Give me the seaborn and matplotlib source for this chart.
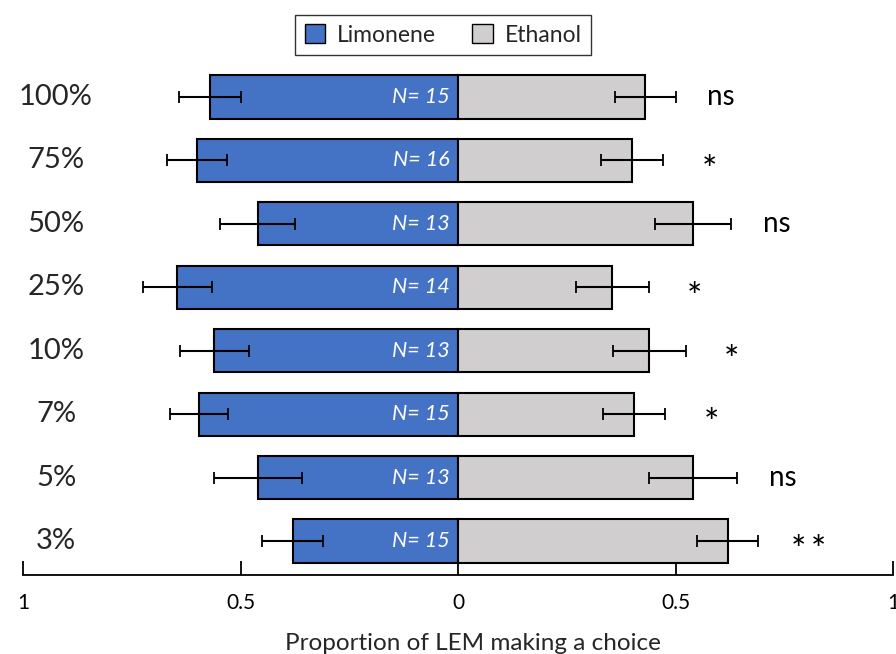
import matplotlib
matplotlib.use("Agg")
import matplotlib.pyplot as plt
import matplotlib.transforms as mtransforms
from matplotlib.patches import Patch
import seaborn as sns
import pandas as pd

concentrations = ['100%', '75%', '50%', '25%', '10%', '7%', '5%', '3%']
limonene = [0.57, 0.60, 0.46, 0.645, 0.56, 0.595, 0.46, 0.38]
ethanol = [0.43, 0.40, 0.54, 0.355, 0.44, 0.405, 0.54, 0.62]
limonene_err = [0.071, 0.069, 0.086, 0.080, 0.080, 0.067, 0.102, 0.070]
ethanol_err = [0.070, 0.072, 0.087, 0.083, 0.083, 0.072, 0.102, 0.070]
n_values = [15, 16, 13, 14, 13, 15, 13, 15]
significance = ['ns', '*', 'ns', '*', '*', '*', 'ns', '**']
x_ticks = [-1, -0.5, 0, 0.5, 1]
x_ticklabels = ['1', '0.5', '0', '0.5', '1']

sns.set_theme(style='white')
plt.rcParams['font.family'] = ['Lato', 'DejaVu Sans']

df = pd.DataFrame({
    'conc': concentrations * 2,
    'value': [-v for v in limonene] + ethanol,
    'odor': ['Limonene'] * len(concentrations) + ['Ethanol'] * len(concentrations),
})

blue = '#4472C4'
gray = '#D0CECE'

fig = plt.figure(figsize=(8.96, 6.54), dpi=100)
ax = fig.add_axes([23 / 896, 1 - 575 / 654, 870 / 896, (575 - 62) / 654])

sns.barplot(data=df, x='value', y='conc', hue='odor', order=concentrations,
            hue_order=['Limonene', 'Ethanol'], palette=[blue, gray],
            dodge=False, width=0.68, orient='h', errorbar=None, saturation=1,
            edgecolor='black', linewidth=1.5, legend=False, ax=ax)

ypos = list(range(len(concentrations)))
ax.errorbar([-v for v in limonene], ypos, xerr=limonene_err, fmt='none',
            ecolor='black', elinewidth=1.5, capsize=4, capthick=1.3, zorder=5)
ax.errorbar(ethanol, ypos, xerr=ethanol_err, fmt='none',
            ecolor='black', elinewidth=1.5, capsize=4, capthick=1.3, zorder=5)

for i, n in enumerate(n_values):
    ax.text(-0.018, i, f'N= {n}', ha='right', va='center', color='white',
            fontsize=15.5, fontstyle='italic', zorder=6)

for i, s in enumerate(significance):
    x = ethanol[i] + ethanol_err[i] + 0.105
    if '*' in s:
        ax.text(x + (0.01 if len(s) > 1 else 0), i + 0.17,
                s.replace('**', '*\u2009*'), ha='center', va='center',
                fontsize=26, color='black')
    else:
        ax.text(x, i, s, ha='center', va='center', fontsize=20, color='black')

trans = mtransforms.blended_transform_factory(fig.transFigure, ax.transData)
for i, c in enumerate(concentrations):
    ax.text(56 / 896, i, c, transform=trans, ha='center', va='center', fontsize=21)

ax.set_xlim(-1, 1)
ax.set_ylim(7.536, -0.552)
ax.set_xticks(x_ticks)
ax.set_xticklabels(x_ticklabels, fontsize=15)
ax.set_yticks([])
ax.set_ylabel('')
ax.set_xlabel('Proportion of LEM making a choice', fontsize=17.5, labelpad=14,
              x=0.517)
ax.tick_params(axis='x', direction='in', length=10, width=1.3, color='black',
               bottom=True, pad=13, labelcolor='black')
for side in ['top', 'right', 'left']:
    ax.spines[side].set_visible(False)
ax.spines['bottom'].set_color('black')
ax.spines['bottom'].set_linewidth(1.3)

handles = [Patch(facecolor=blue, edgecolor='black', linewidth=1, label='Limonene'),
           Patch(facecolor=gray, edgecolor='black', linewidth=1, label='Ethanol')]
leg = fig.legend(handles=handles, loc='center', bbox_to_anchor=(443 / 896, 1 - 35 / 654),
                 ncol=2, fontsize=16.5, frameon=True, fancybox=False,
                 edgecolor='black', handlelength=0.9, handleheight=0.9,
                 columnspacing=1.6, handletextpad=0.5, borderpad=0.4)
leg.get_frame().set_linewidth(1.0)

fig.savefig('out.png', dpi=100)
